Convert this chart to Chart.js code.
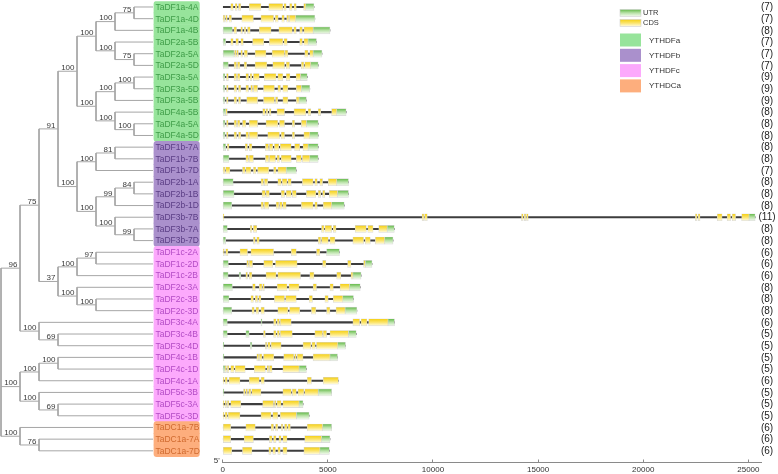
<!DOCTYPE html>
<html>
<head>
<meta charset="utf-8">
<script src="https://cdn.jsdelivr.net/npm/chart.js@4.4.1/dist/chart.umd.min.js"></script>
<style>
  html, body { margin: 0; padding: 0; background: #fff; }
  #wrap { width: 778px; height: 474px; position: relative; }
</style>
</head>
<body>
<div id="wrap"><canvas id="geneChart"></canvas></div>
<script>
// gene tree, bootstrap values as node labels
const treeNewick =
  '((((' +
  '((((TaDF1a-4A,TaDF1a-4D)75,TaDF1a-4B)100,(TaDF2a-5B,(TaDF2a-5A,TaDF2a-5D)75)100)100,' +
  '(((TaDF3a-5A,TaDF3a-5D)100,TaDF3a-5B)100,(TaDF4a-5B,(TaDF4a-5A,TaDF4a-5D)100)100)100)100,' +
  '(((TaDF1b-7A,TaDF1b-7B)81,TaDF1b-7D)100,(((TaDF2b-1A,TaDF2b-1B)84,TaDF2b-1D)99,(TaDF3b-7B,(TaDF3b-7A,TaDF3b-7D)99)100)100)100)91,' +
  '(((TaDF1c-2A,TaDF1c-2D)97,TaDF1c-2B)100,(TaDF2c-3A,(TaDF2c-3B,TaDF2c-3D)100)100)37)75,' +
  '(TaDF3c-4A,(TaDF3c-4B,TaDF3c-4D)69)100)96,' +
  '(((TaDF4c-1B,TaDF4c-1D)100,TaDF4c-1A)100,(TaDF5c-3B,(TaDF5c-3A,TaDF5c-3D)69)100)100,' +
  '(TaDC1a-7B,(TaDC1a-7A,TaDC1a-7D)76)100);';

const geneNames = [
  'TaDF1a-4A', 'TaDF1a-4D', 'TaDF1a-4B', 'TaDF2a-5B', 'TaDF2a-5A', 'TaDF2a-5D',
  'TaDF3a-5A', 'TaDF3a-5D', 'TaDF3a-5B', 'TaDF4a-5B', 'TaDF4a-5A', 'TaDF4a-5D',
  'TaDF1b-7A', 'TaDF1b-7B', 'TaDF1b-7D', 'TaDF2b-1A', 'TaDF2b-1B', 'TaDF2b-1D',
  'TaDF3b-7B', 'TaDF3b-7A', 'TaDF3b-7D',
  'TaDF1c-2A', 'TaDF1c-2D', 'TaDF1c-2B', 'TaDF2c-3A', 'TaDF2c-3B', 'TaDF2c-3D',
  'TaDF3c-4A', 'TaDF3c-4B', 'TaDF3c-4D', 'TaDF4c-1B', 'TaDF4c-1D', 'TaDF4c-1A',
  'TaDF5c-3B', 'TaDF5c-3A', 'TaDF5c-3D',
  'TaDC1a-7B', 'TaDC1a-7A', 'TaDC1a-7D'
];
const geneGroup = [
  0,0,0,0,0,0,0,0,0,0,0,0,
  1,1,1,1,1,1,1,1,1,
  2,2,2,2,2,2,2,2,2,2,2,2,2,2,2,
  3,3,3
];
const groupNames = ['YTHDFa', 'YTHDFb', 'YTHDFc', 'YTHDCa'];
const exonCounts = [7,7,8,7,7,7,9,9,9,8,8,8,8,8,7,8,8,8,11,8,8,6,6,6,8,8,8,6,5,5,5,5,6,5,5,5,6,6,6];

// gene length in bp
const geneLength = [
  4340, 4380, 5100, 4460, 4720, 4540, 4020, 4140, 3980, 5870, 4540, 4540,
  4540, 4540, 3500, 5980, 5980, 5780, 25320, 8160, 8100,
  5550, 7100, 6580, 6540, 6220, 6380, 8170, 6350, 5840, 5460, 3980, 5500,
  5180, 3820, 4110,
  5180, 5100, 5070
];
// UTR regions [start, end] per gene
const utrParts = [
  [[3950,4340]], [[3470,4380]], [[0,460],[4300,5100]], [[0,140],[4060,4460]],
  [[0,540],[4300,4720]], [[0,270],[4180,4540]], [[0,110],[3700,4020]], [[0,100],[3740,4140]],
  [[0,100],[3630,3980]], [[0,140],[5420,5870]], [[0,110],[3980,4540]], [[0,110],[4140,4540]],
  [[0,140],[4060,4540]], [[0,300],[4140,4540]], [[3020,3500]], [[0,500],[5420,5980]],
  [[0,540],[5460,5980]], [[0,430],[5180,5780]], [[25030,25320]], [[0,220],[7820,8160]],
  [[0,140],[7700,8100]],
  [[4940,5550]], [[0,270],[6780,7100]], [[0,260],[780,860],[6190,6580]], [[0,460],[6030,6540]],
  [[0,300],[5710,6220]], [[0,430],[5820,6380]], [[0,220],[1820,1870],[7860,8170]],
  [[0,220],[1100,1260],[5980,6350]], [[0,50],[1310,1390],[5470,5840]], [[0,60],[5100,5460]],
  [[0,110],[3630,3980]], [], [[0,60],[4540,5180]], [[3630,3820]], [[3500,4110]],
  [[4750,5180]], [[4700,5100]], [[4620,5070]]
];
// CDS regions [start, end] per gene
const cdsParts = [
  [[380,500],[590,690],[750,860],[1260,1820],[2190,2860],[2910,3020],[3180,3300],[3390,3500],[3850,3950]],
  [[20,100],[140,220],[300,420],[910,1460],[1820,2420],[2500,2640],[2810,2930],[3040,3140],[3170,3470]],
  [[530,660],[860,940],[1020,1100],[1180,1310],[1740,2300],[2670,3310],[3380,3500],[3660,3790],[3860,4300]],
  [[380,500],[620,750],[860,980],[1420,1950],[2220,2860],[2910,3070],[3660,3790],[3860,4060]],
  [[560,640],[660,750],[860,940],[1020,1180],[1540,2060],[2350,2940],[2960,3100],[3900,4060],[4140,4300]],
  [[540,660],[700,820],[1020,1140],[1540,2100],[2380,2940],[3020,3180],[3740,3860],[3900,4180]],
  [[180,270],[540,660],[700,820],[1100,1230],[1300,1390],[1460,1740],[1980,2540],[2620,2860],[3020,3200],[3490,3700]],
  [[180,260],[540,660],[750,860],[1100,1230],[1330,1420],[1460,1660],[1940,2460],[2620,2750],[2860,3100],[3500,3740]],
  [[180,260],[540,660],[750,850],[1140,1660],[1940,2460],[2510,2620],[2860,3100],[3500,3630]],
  [[140,220],[1900,2020],[2060,2140],[2220,2300],[2580,2940],[3390,3950],[4060,4190],[4540,4660],[5180,5420]],
  [[180,260],[540,660],[700,820],[940,1100],[1260,1660],[2060,2620],[2700,2940],[3310,3420],[3740,3980]],
  [[180,260],[540,660],[750,860],[1100,1230],[1260,1660],[2140,2700],[2780,2940],[3310,3420],[3860,4140]],
  [[220,300],[1070,1180],[1260,1390],[2030,2180],[2220,2380],[2460,2670],[2740,3260],[3420,3660],[3820,4060]],
  [[1100,1230],[1260,1460],[2030,2190],[2220,2510],[2580,2700],[2780,3260],[3500,3740],[3790,4140]],
  [[0,110],[140,340],[940,1070],[1100,1340],[1460,1580],[1660,2190],[2420,2540],[2620,3020]],
  [[1820,1940],[1980,2140],[2620,2780],[2830,3060],[3100,3260],[3790,4300],[4380,4500],[4620,4750],[5020,5420]],
  [[1870,2030],[2060,2220],[2780,2940],[3020,3260],[3310,3500],[3980,4430],[4540,4660],[4750,4860],[5070,5460]],
  [[1820,1940],[1980,2190],[2540,2670],[2700,2830],[2860,3020],[3740,4300],[4380,4500],[4780,5180]],
  [[0,60],[9480,9570],[9600,9730],[14210,14290],[14340,14420],[14450,14530],[22480,22560],[22610,22700],[23520,23750],[23990,24150],[24230,24390],[24680,25030]],
  [[1310,1390],[1460,1620],[4700,4820],[4860,5180],[5260,5390],[6300,6830],[6900,7150],[7420,7820]],
  [[1460,1550],[1620,1740],[4540,4660],[4700,5020],[5100,5340],[6190,6700],[6780,7020],[7260,7700]],
  [[0,80],[140,250],[820,1180],[1340,2420],[3260,3500],[4460,4620]],
  [[1140,1230],[1260,1420],[1950,2380],[2510,3540],[4750,4910],[5940,6100],[6700,6780]],
  [[1100,1180],[1260,1390],[2060,2540],[2620,3700],[4140,4340],[5420,5620],[6100,6190]],
  [[1420,1550],[1740,1870],[1900,1980],[2590,3060],[3150,3630],[4300,4460],[5100,5260],[5580,6030]],
  [[1340,1460],[1550,1660],[1710,1820],[2460,2940],[2990,3500],[4110,4270],[4860,5020],[5260,5710]],
  [[1390,1500],[1580,1710],[1820,1980],[2620,3100],[3180,3660],[4220,4430],[4940,5100],[5390,5820]],
  [[2420,2540],[2590,2700],[2740,3260],[6190,6510],[6580,6860],[6940,7860]],
  [[1940,2030],[2420,2540],[2590,2700],[2740,3310],[4380,4750],[4780,4940],[5100,5980]],
  [[2030,2100],[2140,2260],[2300,2780],[3820,4190],[4240,4400],[4460,5470]],
  [[1620,1710],[1740,1870],[1940,2430],[2900,3380],[3420,3500],[3540,3820],[4300,5100]],
  [[110,180],[220,300],[380,540],[590,1070],[1500,2030],[2100,2190],[2220,2350],[2860,3630]],
  [[0,60],[110,220],[300,820],[1260,1740],[1820,1980],[4020,4220],[4780,5500]],
  [[990,1070],[1100,1180],[1230,1340],[1380,1820],[2860,3260],[3310,3500],[3580,3860],[3900,4540]],
  [[0,60],[110,180],[220,300],[380,860],[1900,2420],[2460,2540],[2580,2780],[2860,3630]],
  [[0,60],[110,220],[260,820],[1820,2300],[2380,2620],[2740,3500]],
  [[0,380],[1100,1550],[2300,2420],[2510,2620],[2780,2860],[2940,3060],[3100,3220],[4020,4750]],
  [[0,380],[1020,1460],[2220,2350],[2420,2540],[2670,2780],[2860,3060],[3900,4700]],
  [[0,430],[940,1390],[2190,2300],[2380,2510],[2620,2740],[2860,3060],[3860,4620]]
];
const axisTicks = [0, 5000, 10000, 15000, 20000, 25000];

// colours
const groupFill = ['#97e49b', '#aa90cc', '#fca9fc', '#fdae7d'];
const groupText = ['#3f9c48', '#5a3d84', '#b24bc4', '#cf6a2f'];
const utrStops = ['#62b947', '#b9e2a8', '#f4faef'];
const cdsStops = ['#f5cf12', '#fbe46a', '#fffbe2'];
const font = '"Liberation Sans", Arial, sans-serif';

// newick -> nested nodes
function parseNewick(str) {
  let pos = 0;
  function readLabel() {
    let s = '';
    while (pos < str.length && !'(),;'.includes(str[pos])) s += str[pos++];
    return s.trim();
  }
  function node() {
    if (str[pos] === '(') {
      pos++;
      const kids = [node()];
      while (str[pos] === ',') { pos++; kids.push(node()); }
      pos++;
      return { children: kids, label: readLabel() };
    }
    return { name: readLabel() };
  }
  return node();
}

// cladogram layout: x = depth, leaves aligned
const leafLevel = 8;
function place(n, depth) {
  if (!n.children) {
    n.x = leafLevel;
    n.y = geneNames.indexOf(n.name);
    return;
  }
  n.x = depth;
  n.children.forEach(c => place(c, depth + 1));
  n.y = (n.children[0].y + n.children[n.children.length - 1].y) / 2;
}
const treeRoot = parseNewick(treeNewick);
place(treeRoot, 0);

const treePoints = [];
const supportLabels = [];
(function walk(n) {
  if (!n.children) return;
  const first = n.children[0], last = n.children[n.children.length - 1];
  treePoints.push({x: first.x, y: first.y}, {x: n.x, y: first.y}, {x: n.x, y: last.y},
                  {x: last.x, y: last.y}, {x: null, y: null});
  n.children.slice(1, -1).forEach(c => {
    treePoints.push({x: n.x, y: c.y}, {x: c.x, y: c.y}, {x: null, y: null});
  });
  if (n.label) supportLabels.push({x: n.x, y: n.y, text: n.label});
  n.children.forEach(walk);
})(treeRoot);

function regionData(list) {
  const out = [];
  list.forEach((regions, row) => regions.forEach(r => out.push({y: row, x: r})));
  return out;
}

function stripe(stops) {
  return function(ctx) {
    const chart = ctx.chart;
    if (!chart.chartArea || !ctx.raw) return stops[1];
    const yc = chart.scales.y.getPixelForValue(ctx.raw.y);
    const g = chart.ctx.createLinearGradient(0, yc - 3.5, 0, yc + 3.5);
    g.addColorStop(0, stops[0]);
    g.addColorStop(0.5, stops[1]);
    g.addColorStop(1, stops[2]);
    return g;
  };
}

const nameBox = [8.05, 10.44];
const axisHeight = 11.5;

// texts: names, bootstrap, exon counts, legend
const annotations = {
  id: 'annotations',
  afterDatasetsDraw(chart) {
    const {ctx, chartArea} = chart;
    const {xt, xg, y} = chart.scales;
    ctx.save();
    ctx.textBaseline = 'middle';

    ctx.font = '8.5px ' + font;
    ctx.textAlign = 'left';
    geneNames.forEach((n, r) => {
      ctx.fillStyle = groupText[geneGroup[r]];
      ctx.fillText(n, xt.getPixelForValue(nameBox[0]) + 1.5, y.getPixelForValue(r) + 0.5);
    });

    ctx.font = '8px ' + font;
    ctx.fillStyle = '#3a3a3a';
    ctx.textAlign = 'right';
    ctx.textBaseline = 'alphabetic';
    supportLabels.forEach(s => {
      ctx.fillText(s.text, xt.getPixelForValue(s.x) - 2.5, y.getPixelForValue(s.y) - 1.2);
    });

    ctx.font = '10px ' + font;
    ctx.fillStyle = '#222';
    ctx.textAlign = 'center';
    ctx.textBaseline = 'middle';
    exonCounts.forEach((c, r) => {
      ctx.fillText('(' + c + ')', chartArea.right + 6, y.getPixelForValue(r) + 0.5);
    });

    // 5' mark at the axis start
    ctx.font = '8px ' + font;
    ctx.fillStyle = '#333';
    ctx.textAlign = 'right';
    ctx.fillText("5'", xg.getPixelForValue(0) - 3, chartArea.bottom - 2);

    // legend
    const lx = 620, lw = 21;
    [['UTR', utrStops, 9.5], ['CDS', cdsStops, 19.5]].forEach(([txt, stops, ly]) => {
      const g = ctx.createLinearGradient(0, ly, 0, ly + 7);
      g.addColorStop(0, stops[0]); g.addColorStop(0.5, stops[1]); g.addColorStop(1, stops[2]);
      ctx.fillStyle = g;
      ctx.fillRect(lx, ly, lw, 7);
      ctx.strokeStyle = '#cfcfcf';
      ctx.lineWidth = 0.6;
      ctx.strokeRect(lx, ly, lw, 7);
      ctx.font = '7.5px ' + font;
      ctx.fillStyle = '#333';
      ctx.textAlign = 'left';
      ctx.fillText(txt, lx + 23, ly + 3);
    });
    groupNames.forEach((g, i) => {
      const ly = 33.5 + i * 15.3;
      ctx.fillStyle = groupFill[i];
      ctx.fillRect(lx, ly, lw, 13);
      ctx.font = '8px ' + font;
      ctx.fillStyle = '#333';
      ctx.textAlign = 'left';
      ctx.fillText(g, lx + 29, ly + 6.8);
    });
    ctx.restore();
  }
};

function groupRadius(ctx) {
  const r = ctx.dataIndex;
  const g = geneGroup[r];
  const top = r === 0 || geneGroup[r - 1] !== g;
  const bottom = r === geneGroup.length - 1 || geneGroup[r + 1] !== g;
  return {topLeft: top ? 3 : 0, topRight: top ? 3 : 0, bottomLeft: bottom ? 3 : 0, bottomRight: bottom ? 3 : 0};
}

function fixedAxis(s) {
  s.height = axisHeight;
  s.paddingLeft = 0;
  s.paddingRight = 0;
}

const ctx = document.getElementById('geneChart').getContext('2d');
const chart = new Chart(ctx, {
  type: 'bar',
  data: {
    datasets: [
      {
        label: 'CDS',
        indexAxis: 'y',
        xAxisID: 'xg',
        yAxisID: 'y',
        grouped: false,
        order: 0,
        data: regionData(cdsParts),
        backgroundColor: stripe(cdsStops),
        borderColor: '#d6d6d6',
        borderWidth: 0.6,
        borderSkipped: false,
        barThickness: 7
      },
      {
        label: 'UTR',
        indexAxis: 'y',
        xAxisID: 'xg',
        yAxisID: 'y',
        grouped: false,
        order: 1,
        data: regionData(utrParts),
        backgroundColor: stripe(utrStops),
        borderColor: '#d6d6d6',
        borderWidth: 0.6,
        borderSkipped: false,
        barThickness: 7
      },
      {
        label: 'gene',
        indexAxis: 'y',
        xAxisID: 'xg',
        yAxisID: 'y',
        grouped: false,
        order: 2,
        data: geneLength.map((len, r) => ({y: r, x: [0, len]})),
        backgroundColor: '#3d3d3d',
        borderWidth: 0,
        barThickness: 1.4
      },
      {
        label: 'names',
        indexAxis: 'y',
        xAxisID: 'xt',
        yAxisID: 'y',
        grouped: false,
        order: 3,
        data: geneNames.map((n, r) => ({y: r, x: nameBox})),
        backgroundColor: c => groupFill[geneGroup[c.dataIndex]],
        borderWidth: 0,
        borderSkipped: false,
        borderRadius: groupRadius,
        barPercentage: 1,
        categoryPercentage: 1
      },
      {
        type: 'line',
        label: 'tree',
        xAxisID: 'xt',
        yAxisID: 'y',
        order: 4,
        data: treePoints,
        borderColor: '#a6a6a6',
        borderWidth: 1,
        pointRadius: 0,
        spanGaps: false,
        tension: 0
      }
    ]
  },
  options: {
    responsive: true,
    maintainAspectRatio: false,
    animation: false,
    layout: { autoPadding: false, padding: { top: 1.16, left: 0, right: 17, bottom: 0 } },
    plugins: {
      legend: { display: false },
      tooltip: { enabled: false }
    },
    scales: {
      y: {
        type: 'linear',
        min: -0.5,
        max: 39,
        reverse: true,
        offset: false,
        grid: { offset: false },
        display: false
      },
      xt: {
        type: 'linear',
        position: 'bottom',
        stack: 'x',
        stackWeight: 222.7,
        min: -1 / 19,
        max: -1 / 19 + 222.7 / 19,
        offset: false,
        afterFit: fixedAxis,
        grid: { offset: false, display: false },
        border: { display: false },
        ticks: { display: false }
      },
      xg: {
        type: 'linear',
        position: 'bottom',
        stack: 'x',
        stackWeight: 538.3,
        min: 0,
        max: 25600,
        offset: false,
        afterFit: fixedAxis,
        afterBuildTicks: s => { s.ticks = axisTicks.map(v => ({value: v})); },
        grid: { offset: false, drawOnChartArea: false, drawTicks: true, tickLength: -3, color: '#8a8a8a' },
        border: { color: '#8a8a8a', width: 1 },
        ticks: {
          padding: 5,
          color: '#333',
          font: { family: font, size: 8 },
          maxRotation: 0,
          callback: v => String(v)
        }
      }
    }
  },
  plugins: [annotations]
});
</script>
</body>
</html>
